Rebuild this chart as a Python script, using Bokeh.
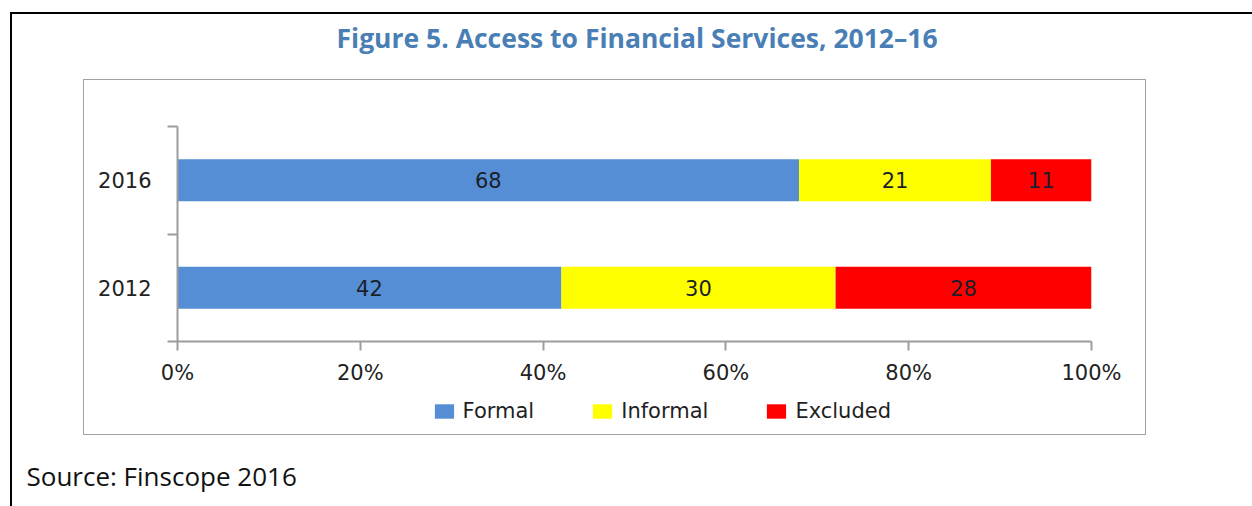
import numpy as np
from bokeh.plotting import figure
from bokeh.layouts import column
from bokeh.models import (ColumnDataSource, FixedTicker, Title, Legend, LegendItem)
from bokeh.core.properties import value
from bokeh.embed import file_html
from bokeh.resources import INLINE

# ---- data ----
years = ["2012", "2016"]
formal = [42, 68]
informal = [30, 21]
excluded = [28, 11]
series_names = ["Formal", "Informal", "Excluded"]
series_colors = ["#558ED5", "#FFFF00", "#FF0000"]
x_ticks = [0, 20, 40, 60, 80, 100]
x_tick_labels = ["0%", "20%", "40%", "60%", "80%", "100%"]
title_text = "Figure 5. Access to Financial Services, 2012\u201316"
source_text = "Source: Finscope 2016"

W, H = 1252, 506
H1 = 390                 # height of the main chart figure; the rest holds legend + source
H2 = H - H1
FL, FR, FT, FB = 177, 1091, 126, 341   # plot frame edges on page
FS = 21                  # chart text size (px)
BOX = "#a3a3a3"          # chart box rule colour

ypos = [i + 0.5 for i in range(len(years))]
vals = np.array([formal, informal, excluded], dtype=float)
lefts = np.vstack([np.zeros(len(years)), np.cumsum(vals, axis=0)[:-1]])

src = ColumnDataSource(dict(y=ypos, formal=formal, informal=informal, excluded=excluded))

# ================= main chart =================
p = figure(width=W, height=H1, output_backend="svg", toolbar_location=None,
           x_range=(0, 100), y_range=(0, len(years)),
           min_border_left=FL, min_border_right=W - FR,
           min_border_top=FT, min_border_bottom=H1 - FB)
p.title.visible = False
p.outline_line_color = None
p.xgrid.grid_line_color = None
p.ygrid.grid_line_color = None
p.background_fill_color = "white"
p.border_fill_alpha = 0

# decorative rules: outer black top/left line and gray chart box (CSS background)
p.styles = {
    "background-color": "white",
    "background-image": ", ".join(["linear-gradient(#000,#000)"] * 2 +
                                  ["linear-gradient(%s,%s)" % (BOX, BOX)] * 3),
    "background-size": "1242px 2px, 2px %dpx, 1063px 1px, 1px %dpx, 1px %dpx"
                       % (H1 - 12, H1 - 79, H1 - 79),
    "background-position": "10px 12px, 10px 12px, 83px 79px, 83px 79px, 1145px 79px",
    "background-repeat": "no-repeat",
}

renderers = p.hbar_stack(["formal", "informal", "excluded"], y="y", height=0.39,
                         color=series_colors, line_color=None, source=src)

# value labels
lab_x, lab_y, lab_t = [], [], []
for s in range(vals.shape[0]):
    for i in range(len(years)):
        lab_x.append(lefts[s, i] + vals[s, i] / 2)
        lab_y.append(ypos[i])
        lab_t.append("%d" % vals[s, i])
p.text(x=lab_x, y=lab_y, text=lab_t, text_align="center", text_baseline="middle",
       text_font=value("DejaVu Sans"), text_font_size="%dpx" % FS, text_color="#1a1f2a")

axis_gray = "#9d9d9d"
tick_txt = "#222222"

# x axis
xa = p.xaxis[0]
xa.ticker = FixedTicker(ticks=x_ticks, minor_ticks=[])
xa.major_label_overrides = {t: l for t, l in zip(x_ticks, x_tick_labels)}
xa.axis_line_color = axis_gray
xa.axis_line_width = 2
xa.major_tick_line_color = axis_gray
xa.major_tick_line_width = 2
xa.major_tick_in = 0
xa.major_tick_out = 9
xa.minor_tick_line_color = None
xa.major_label_standoff = 10
xa.major_label_text_font = "DejaVu Sans"
xa.major_label_text_font_size = "%dpx" % FS
xa.major_label_text_color = tick_txt

# y axis
ya = p.yaxis[0]
ya.ticker = FixedTicker(ticks=ypos, minor_ticks=list(range(len(years) + 1)))
ya.major_label_overrides = {t: l for t, l in zip(ypos, years)}
ya.axis_line_color = axis_gray
ya.axis_line_width = 2
ya.major_tick_line_color = None
ya.major_tick_in = 0
ya.major_tick_out = 0
ya.minor_tick_line_color = axis_gray
ya.minor_tick_line_width = 2
ya.minor_tick_in = 0
ya.minor_tick_out = 10
ya.major_label_standoff = 16
ya.major_label_text_font = "DejaVu Sans"
ya.major_label_text_font_size = "%dpx" % FS
ya.major_label_text_color = tick_txt

# title (above, with an empty spacer title between it and the plot area)
p.add_layout(Title(text=" ", standoff=58, text_font_size="10px"), "above")
p.add_layout(Title(text=title_text, align="left", offset=336 - FL, standoff=0,
                   vertical_align="bottom",
                   text_font="Open Sans", text_font_style="bold", text_font_size="26.5px",
                   text_color="#4a7fb5"), "above")

# ================= legend + source strip =================
q = figure(width=W, height=H2, output_backend="svg", toolbar_location=None,
           x_range=(0, 1), y_range=(0, 1),
           min_border_left=0, min_border_right=0, min_border_top=0, min_border_bottom=0)
q.title.visible = False
q.axis.visible = False
q.xgrid.grid_line_color = None
q.ygrid.grid_line_color = None
q.outline_line_color = None
q.background_fill_alpha = 0
q.border_fill_alpha = 0
q.styles = {
    "background-color": "white",
    "background-image": ", ".join(["linear-gradient(#000,#000)"] +
                                  ["linear-gradient(%s,%s)" % (BOX, BOX)] * 3),
    "background-size": "2px %dpx, 1063px 1px, 1px %dpx, 1px %dpx"
                       % (H2, 434 - H1 + 1, 434 - H1 + 1),
    "background-position": "10px 0px, 83px %dpx, 83px 0px, 1145px 0px" % (434 - H1),
    "background-repeat": "no-repeat",
}

# legend swatches share the series colours (one bar each, placed well outside the visible ranges)
swatches = [q.hbar(y=[-50], left=[-50], right=[-49], height=0.5, color=c, line_color=None)
            for c in series_colors]
items = [LegendItem(label=n, renderers=[r]) for n, r in zip(series_names, swatches)]

# source line in the strip's lower panel
q.add_layout(Title(text=source_text, align="left", offset=26 - FL, standoff=26,
                   vertical_align="bottom",
                   text_font="Open Sans", text_font_style="normal", text_font_size="26px",
                   text_color="#111111"), "below")

q_frame_bottom = 441.6   # page y of the strip's frame bottom (above the source panel)
legend = Legend(items=items, orientation="horizontal",
                location=(434 - 2.4 - FL, q_frame_bottom - 422.25),
                margin=0, padding=0, spacing=56, glyph_width=24, glyph_height=18,
                label_standoff=7, label_text_font="DejaVu Sans",
                label_text_font_size="%dpx" % FS,
                label_text_color="#1f1f1f", border_line_color=None,
                background_fill_alpha=0)
q.add_layout(legend)

layout = column(p, q, spacing=0)
open("out.html", "w").write(file_html(layout, INLINE))
